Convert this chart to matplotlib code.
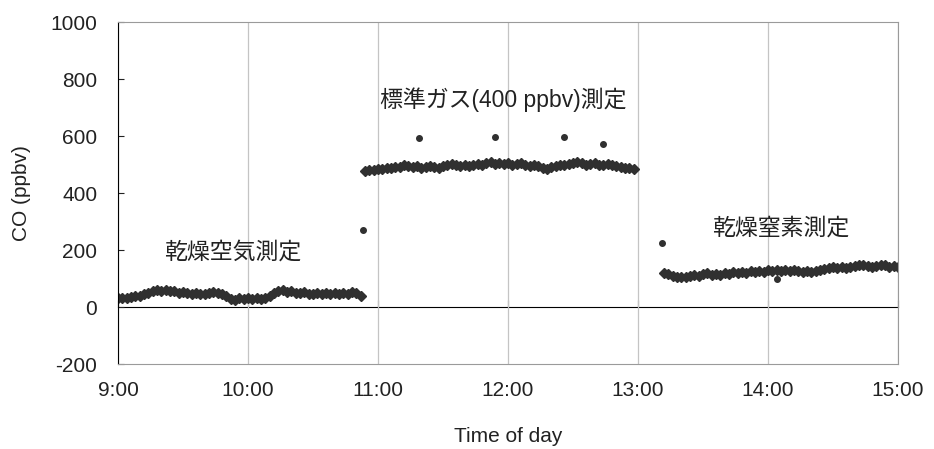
import numpy as np
import matplotlib
matplotlib.use("Agg")
import matplotlib.pyplot as plt

plt.rcParams['font.family'] = ['Liberation Sans', 'Noto Sans CJK JP']
plt.rcParams['axes.unicode_minus'] = False

# CO readings (ppbv), sampled every 2 minutes
dry_air_start = 9.0          # 9:00
dry_air = [30, 33, 31, 35, 38, 40, 44, 50, 55, 58,
           56, 60, 57, 55, 50, 52, 48, 46, 49, 45,
           47, 50, 52, 48, 44, 38, 28, 26, 30, 27,
           32, 28, 30, 27, 33, 40, 48, 55, 60, 52,
           55, 50, 48, 51, 47, 45, 49, 46, 50, 44,
           48, 46, 50, 47, 52, 48, 38]

std_gas_start = 10.9         # 10:54
std_gas = [478, 482, 480, 485, 483, 488, 486, 492, 490, 497,
           494, 490, 493, 488, 492, 495, 490, 487, 493, 497,
           502, 499, 495, 498, 494, 500, 503, 499, 505, 508,
           503, 506, 501, 504, 498, 502, 505, 500, 496, 499,
           493, 488, 485, 492, 496, 500, 497, 503, 507, 510,
           505, 499, 502, 506, 500, 497, 501, 498, 494, 490,
           486, 489, 484]

dry_n2_start = 13.2          # 13:12
dry_n2 = [120, 115, 110, 104, 107, 105, 110, 113, 108, 115,
          118, 112, 117, 114, 120, 116, 122, 118, 124, 120,
          126, 122, 128, 124, 130, 126, 131, 127, 129, 125,
          130, 128, 124, 127, 122, 126, 129, 134, 138, 141,
          137, 140, 136, 139, 143, 146, 148, 144, 141, 145,
          149, 146, 142, 145, 140]

# single readings: gas switching and spikes
single_t = [10 + 53 / 60, 11 + 19 / 60, 11 + 54 / 60, 12 + 26 / 60,
            12 + 44 / 60, 13 + 11 / 60, 14 + 4 / 60]
single_v = [270, 593, 597, 597, 572, 225, 100]

hour_ticks = [9, 10, 11, 12, 13, 14, 15]
hour_labels = ['9:00', '10:00', '11:00', '12:00', '13:00', '14:00', '15:00']
y_ticks = [-200, 0, 200, 400, 600, 800, 1000]


def times(start, n):
    return start + np.arange(n) * 2 / 60


fig = plt.figure(figsize=(9.34, 4.49), dpi=100)
ax = fig.add_axes([0.1263, 0.1893, 0.8352, 0.7617])

mk = dict(ls='none', marker='D', ms=4.6, color='#303030', mec='#303030')
for start, vals in [(dry_air_start, dry_air), (std_gas_start, std_gas), (dry_n2_start, dry_n2)]:
    ax.plot(times(start, len(vals)), vals, **mk)
ax.plot(single_t, single_v, ls='none', marker='o', ms=4, color='#303030')

ax.set_xlim(9, 15)
ax.set_ylim(-200, 1000)
ax.set_xticks(hour_ticks)
ax.set_xticklabels(hour_labels)
ax.set_yticks(y_ticks)
ax.grid(axis='x', color='#c4c4c4', lw=0.9)
ax.tick_params(axis='x', length=0, pad=12, labelsize=15, colors='#222222')
ax.tick_params(axis='y', direction='in', length=4, pad=15, labelsize=15, colors='#222222')

for side in ['top', 'right', 'bottom']:
    ax.spines[side].set_color('#9a9a9a')
ax.spines['left'].set_color('black')

# zero line with hourly ticks
zero = ax.secondary_xaxis(1 / 6)
zero.set_xticks(hour_ticks)
zero.tick_params(direction='in', length=5, labelbottom=False, color='black')
zero.spines['bottom'].set_color('black')
zero.spines['top'].set_color('black')

ax.set_xlabel('Time of day', fontsize=15, labelpad=20, color='#222222')
ax.set_ylabel('CO (ppbv)', fontsize=15, labelpad=14, color='#222222')

ax.text(9 + 53 / 60, 193, '乾燥空気測定', fontsize=16.5, ha='center', va='center', color='#222222')
ax.text(11 + 58 / 60, 726, '標準ガス(400 ppbv)測定', fontsize=16.5, ha='center', va='center', color='#222222')
ax.text(14 + 6 / 60, 277, '乾燥窒素測定', fontsize=16.5, ha='center', va='center', color='#222222')

fig.savefig('out.png', dpi=100)
